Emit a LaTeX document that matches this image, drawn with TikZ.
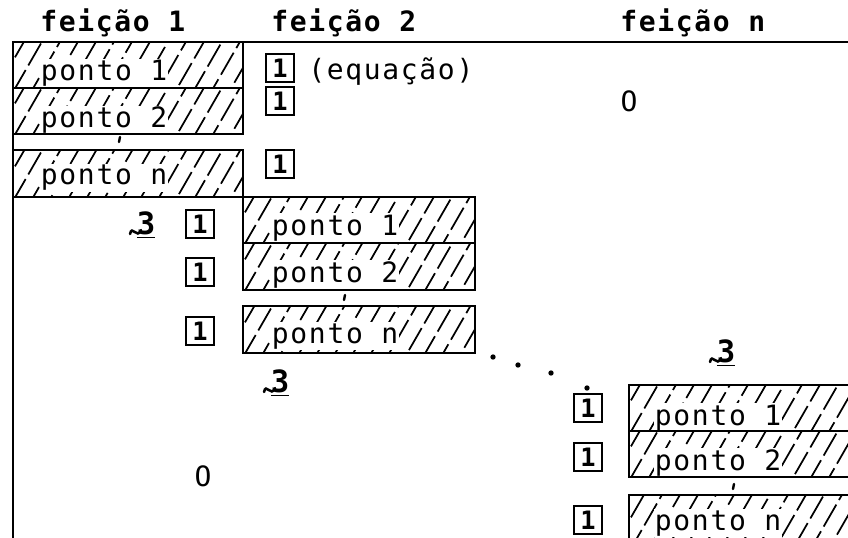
\documentclass[tikz,border=0pt]{standalone}
\usepackage{fontspec}
\newfontfamily\dmspaced{DejaVu Sans Mono}[LetterSpace=6]
\newfontfamily\dmplain{DejaVu Sans Mono}
\newcommand{\lbfont}{\dmspaced\fontsize{21}{23}\selectfont}
\newcommand{\hdfont}{\dmspaced\bfseries\fontsize{21}{23}\selectfont}
\newcommand{\unitfont}{\dmplain\bfseries\fontsize{19}{21}\selectfont}

% hatching of a record box: x1, y1, x2, y2 (pixel units, y downwards)
\newcommand{\hatchfill}[4]{%
  \begin{scope}
    \clip (#1,#2) rectangle (#3,#4);
    \foreach \k in {-3,...,14} {
      \pgfmathsetmacro{\ph}{mod(\k*7,23)}
      \draw[hatch, dash phase=\ph pt] ({#1+\k*18},{#4+4}) -- ++(34,-59);
    }
  \end{scope}
}

% underlined 3 with a curl on its lower left
\newcommand{\curlthree}[3]{%
  \node[glyph] (#1) at (#2,#3) {\underline{3}};
  \draw[curl] ({#2-16},{#3+9}) .. controls ({#2-14},{#3-1}) and ({#2-9},{#3+15}) .. ({#2-5},{#3+5});
}

\begin{document}
\begin{tikzpicture}[x=0.75pt,y=-0.75pt,
  frame/.style={line width=1.6pt},
  hatch/.style={line width=1.3pt, dash pattern=on 19pt off 4pt},
  lbl/.style={font=\lbfont, inner sep=0pt, anchor=base west},
  rec/.style={lbl, fill=white, inner xsep=0.5pt, inner ysep=1pt},
  hdr/.style={font=\hdfont, inner sep=0pt, anchor=base west},
  unitbox/.style={draw, line width=1.4pt, font=\unitfont, inner sep=0pt,
                  minimum width=21pt, minimum height=21pt},
  zero/.style={font=\lbfont, inner sep=0pt},
  glyph/.style={font=\dmplain\bfseries\fontsize{23}{25}\selectfont, inner sep=0pt},
  curl/.style={line width=1.9pt, line cap=round},
  tick/.style={line width=1.8pt, line cap=round},
  dotmark/.style={fill, circle, inner sep=0pt, minimum size=4pt},
]
\useasboundingbox (0,0) rectangle (848,538);

% column headers
\node[hdr] (h1) at (40,32) {feição 1};
\node[hdr] (h2) at (271,32) {feição 2};
\node[hdr] (hn) at (620,32) {feição n};

% ---- hatching of all record boxes
\hatchfill{13}{42}{243}{88}
\hatchfill{13}{88}{243}{134}
\hatchfill{13}{150}{243}{197}
\hatchfill{243}{197}{475}{243}
\hatchfill{243}{243}{475}{290}
\hatchfill{243}{306}{475}{353}
\hatchfill{629}{385}{870}{431}
\hatchfill{629}{431}{870}{477}
\hatchfill{629}{495}{870}{548}

% ---- block of feature 1
\node[rec] (a1) at (40,81) {ponto 1};
\node[rec] (a2) at (40,128) {ponto 2};
\node[rec] (an) at (40,185) {ponto n};
\draw[tick] (120,137) -- (119,142);

\node[unitbox] (u11) at (280,68) {1};
\node[lbl] (eq) at (308,80) {(equação)};
\node[unitbox] (u12) at (280,101) {1};
\node[unitbox] (u1n) at (280,164) {1};
\node[zero] (z1) at (629,101) {O};

% ---- block of feature 2
\node[rec] (b1) at (271,235) {ponto 1};
\node[rec] (b2) at (271,282) {ponto 2};
\node[rec] (bn) at (271,343) {ponto n};
\draw[tick] (345,295) -- (344,300);

\node[unitbox] (u21) at (200,224) {1};
\node[unitbox] (u22) at (200,272) {1};
\node[unitbox] (u2n) at (200,331) {1};
\curlthree{c1}{146}{225}
\curlthree{c2}{280}{383}
\node[zero] (z2) at (203,476) {O};

% ---- diagonal ellipsis
\node[dotmark] (d1) at (493,357) {};
\node[dotmark] (d2) at (518,365) {};
\node[dotmark] (d3) at (551,373) {};
\node[dotmark] (d4) at (587,388) {};

% ---- block of feature n
\node[rec] (n1) at (654,425) {ponto 1};
\node[rec] (n2) at (654,470) {ponto 2};
\node[rec] (nn) at (654,530) {ponto n};
\draw[tick] (734,484) -- (733,489);

\node[unitbox] (un1) at (588,408) {1};
\node[unitbox] (un2) at (588,457) {1};
\node[unitbox] (unn) at (588,520) {1};
\curlthree{c3}{726}{353}

% ---- outer frame and record box outlines
\draw[frame] (13,538) -- (13,42) -- (848,42);
\foreach \xa/\ya/\xb/\yb in {13/42/243/88, 13/88/243/134, 13/150/243/197,
    243/197/475/243, 243/243/475/290, 243/306/475/353,
    629/385/870/431, 629/431/870/477, 629/495/870/548}
  \draw[frame] (\xa,\ya) rectangle (\xb,\yb);
\end{tikzpicture}
\end{document}
